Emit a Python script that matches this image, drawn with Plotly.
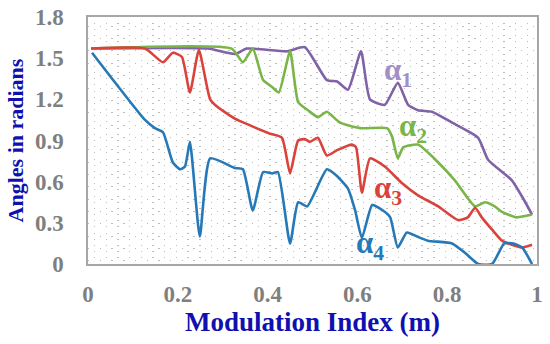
import plotly.graph_objects as go

# ---- data ----
a1_x = [0.007, 0.267, 0.327, 0.354, 0.443, 0.483, 0.532, 0.555, 0.579, 0.608, 0.628, 0.661,
        0.690, 0.713, 0.735, 0.766, 0.811, 0.869, 0.891, 0.944, 0.967, 0.989]
a1_y = [1.57, 1.57, 1.53, 1.57, 1.55, 1.58, 1.34, 1.33, 1.27, 1.55, 1.20, 1.16,
        1.32, 1.16, 1.12, 1.11, 1.03, 0.92, 0.76, 0.61, 0.49, 0.36]

a2_x = [0.007, 0.320, 0.345, 0.367, 0.390, 0.410, 0.425, 0.450, 0.468, 0.490, 0.512, 0.532,
        0.561, 0.606, 0.666, 0.677, 0.690, 0.702, 0.735, 0.780, 0.817, 0.862, 0.884,
        0.906, 0.922, 0.955, 0.989]
a2_y = [1.57, 1.57, 1.47, 1.57, 1.34, 1.29, 1.25, 1.55, 1.18, 1.12, 1.07, 1.11,
        1.03, 0.99, 0.99, 0.93, 0.77, 0.85, 0.87, 0.74, 0.61, 0.42, 0.45,
        0.42, 0.38, 0.34, 0.36]

a3_x = [0.007, 0.127, 0.167, 0.189, 0.209, 0.227, 0.247, 0.272, 0.290, 0.327, 0.361, 0.405,
        0.432, 0.450, 0.468, 0.483, 0.494, 0.512, 0.532, 0.555, 0.588, 0.597, 0.610,
        0.628, 0.661, 0.699, 0.735, 0.780, 0.824, 0.846, 0.862, 0.877, 0.900, 0.922,
        0.944, 0.967, 0.989]
a3_y = [1.57, 1.57, 1.47, 1.54, 1.51, 1.25, 1.56, 1.20, 1.14, 1.06, 1.01, 0.95,
        0.92, 0.66, 0.90, 0.91, 0.89, 0.92, 0.79, 0.83, 0.87, 0.85, 0.52,
        0.77, 0.71, 0.59, 0.50, 0.42, 0.32, 0.34, 0.41, 0.34, 0.25, 0.17,
        0.14, 0.12, 0.14]

a4_x = [0.009, 0.127, 0.149, 0.167, 0.189, 0.205, 0.216, 0.227, 0.249, 0.272, 0.327, 0.345,
        0.367, 0.390, 0.410, 0.423, 0.450, 0.468, 0.488, 0.532, 0.555, 0.579, 0.595,
        0.610, 0.633, 0.657, 0.673, 0.690, 0.710, 0.733, 0.757, 0.811, 0.840, 0.869,
        0.900, 0.927, 0.947, 0.967, 0.989]
a4_y = [1.54, 1.05, 0.99, 0.96, 0.74, 0.69, 0.71, 0.89, 0.20, 0.77, 0.70, 0.69,
        0.39, 0.67, 0.66, 0.67, 0.15, 0.45, 0.42, 0.69, 0.64, 0.55, 0.39,
        0.19, 0.43, 0.39, 0.34, 0.12, 0.23, 0.20, 0.17, 0.15, 0.08, 0.00,
        0.00, 0.15, 0.15, 0.12, 0.00]

x_ticks = [0, 0.2, 0.4, 0.6, 0.8, 1]
x_labels = ["0", "0.2", "0.4", "0.6", "0.8", "1"]
y_ticks = [0, 0.3, 0.6, 0.9, 1.2, 1.5, 1.8]
y_labels = ["0", "0.3", "0.6", "0.9", "1.2", "1.5", "1.8"]

series = [
    ("α<sub>1</sub>", a1_x, a1_y, "#8062a8", "#a48ec6", 0.655, 1.40),
    ("α<sub>2</sub>", a2_x, a2_y, "#79b547", "#79b547", 0.688, 0.99),
    ("α<sub>3</sub>", a3_x, a3_y, "#d9433b", "#d9433b", 0.632, 0.54),
    ("α<sub>4</sub>", a4_x, a4_y, "#2679b8", "#2679b8", 0.593, 0.14),
]

FONT = "Liberation Serif"
fig = go.Figure()

# invisible trace so the dotted-background overlay axis is drawn
fig.add_trace(go.Scatter(x=[0, 1], y=[0, 1.8], yaxis="y2", mode="markers",
                         marker=dict(opacity=0), hoverinfo="skip", showlegend=False))

for name, xs, ys, col, lcol, lx, ly in series:
    fig.add_trace(go.Scatter(x=xs, y=ys, mode="lines", name=name,
                             line=dict(color=col, width=2.6, shape="spline", smoothing=0.5),
                             showlegend=False))
    fig.add_annotation(x=lx, y=ly, xref="x", yref="y", text="<b>" + name + "</b>",
                       showarrow=False, xanchor="left", yanchor="middle",
                       font=dict(family=FONT, size=31, color=lcol))

fig.update_layout(
    width=550, height=344,
    margin=dict(l=88, r=13, t=17, b=80, autoexpand=False),
    paper_bgcolor="white", plot_bgcolor="white",
    font=dict(family=FONT),
    xaxis=dict(range=[0, 1], tickvals=x_ticks, ticktext=x_labels, automargin=False,
               showgrid=False, zeroline=False,
               showline=True, mirror=True, linecolor="#a6a6a6", linewidth=1.5,
               ticks="", ticklabelstandoff=9,
               tickfont=dict(family=FONT, size=23, color="#7f7f7f", weight="bold"),
               title=dict(text="<b>Modulation Index (m)</b>", standoff=0,
                          font=dict(family=FONT, size=27, color="#1010b0"))),
    yaxis=dict(range=[0, 1.8], tickvals=y_ticks, ticktext=y_labels, automargin=False,
               showgrid=False, zeroline=False,
               showline=True, mirror=True, linecolor="#a6a6a6", linewidth=1.5,
               ticks="", ticklabelstandoff=18,
               tickfont=dict(family=FONT, size=23, color="#7f7f7f", weight="bold"),
               title=dict(text="<b>Angles in radians</b>", standoff=5,
                          font=dict(family=FONT, size=22, color="#1010b0"))),
    yaxis2=dict(range=[0, 1.8], overlaying="y", side="right", showticklabels=False,
                ticks="", zeroline=False, showline=False, automargin=False,
                showgrid=True, dtick=0.09, tick0=0.0225, gridcolor="#bdbdbd",
                gridwidth=1.4, griddash="1.4px,10.3px",
                minor=dict(showgrid=True, dtick=0.045, gridcolor="#bdbdbd",
                           gridwidth=1.4, griddash="0px,5.8px,1.4px,4.5px")),
)

# remove the browser's default 8px body margin so the figure sits at the window origin
fig.write_html("out.html", config={"displayModeBar": False},
               post_script="document.body.style.margin='0';")
